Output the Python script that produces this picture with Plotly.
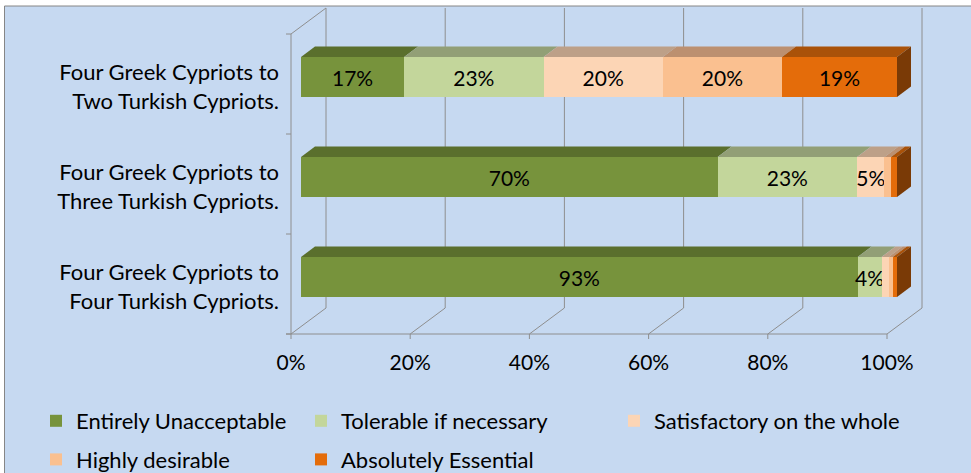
import plotly.graph_objects as go

# ---------------- data ----------------
categories = [
    "Four Greek Cypriots to<br>Two Turkish Cypriots.",
    "Four Greek Cypriots to<br>Three Turkish Cypriots.",
    "Four Greek Cypriots to<br>Four Turkish Cypriots.",
]
series_names = [
    "Entirely Unacceptable",
    "Tolerable if necessary",
    "Satisfactory on the whole",
    "Highly desirable",
    "Absolutely Essential",
]
entirely_unacceptable = [17.3, 69.9, 93.4]
tolerable_if_necessary = [23.4, 23.4, 4.0]
satisfactory_on_the_whole = [20.0, 4.6, 1.2]
highly_desirable = [20.0, 1.1, 0.7]
absolutely_essential = [19.3, 1.0, 0.7]
x_tick_values = [0, 20, 40, 60, 80, 100]
x_tick_labels = ["0%", "20%", "40%", "60%", "80%", "100%"]
label_threshold = 3  # segments smaller than this carry no label

# ---------------- styles ----------------
FONT = "Lato"
front_colors = ["#77933C", "#C3D69B", "#FCD5B5", "#FAC090", "#E46C0A"]
top_colors = ["#5A6F2D", "#929F76", "#BDA088", "#BC9070", "#AA5209"]
side_color = "#7A3A06"
frame_color = "#8E8E8E"
bg_color = "#C6D9F1"
legend_for = ["legend", "legend2", "legend3", "legend", "legend2"]

W, H = 971, 473
PL, PR, PT, PB = 284, 930, 4, 342      # plot area in px
SX = 5.96                              # px per percent
SY = 100.0                             # px per category step
X0PX, Y0PX = 301, 277                  # px of 0 % and of bottom category
BAR_W = 0.4
BDX, BDY = 14 / SX, 10.5 / SY          # bar depth (oblique)
FX, FY = -10 / SX, -7 / SY             # front plane offset
BX, BY = 25 / SX, 19 / SY              # back plane offset
TX, TY = 5 / SX, 5 / SY                # tick length

xrange = [(PL - X0PX) / SX, (PR - X0PX) / SX]
yrange = [-(PB - Y0PX) / SY, (Y0PX - PT) / SY]


def px_x(px):
    return (px - PL) / (PR - PL)


def px_y(py):
    return (PB - py) / (PB - PT)


series = [entirely_unacceptable, tolerable_if_necessary,
          satisfactory_on_the_whole, highly_desirable, absolutely_essential]
cat_order = categories[::-1]
cat_index = {c: i for i, c in enumerate(cat_order)}

fig = go.Figure()
for k, (name, vals) in enumerate(zip(series_names, series)):
    fig.add_trace(go.Bar(
        y=categories, x=vals, orientation="h", name=name,
        width=BAR_W,
        marker=dict(color=front_colors[k], line=dict(width=0)),
        text=[f"{v:.0f}%" if v >= label_threshold else "" for v in vals],
        textposition="inside", insidetextanchor="middle",
        constraintext="none", textangle=0,
        insidetextfont=dict(family=FONT, size=21, color="black"),
        legend=legend_for[k], legendgroup=name,
        hoverinfo="skip",
    ))

shapes = []
# chart area background + border
shapes.append(dict(type="rect", xref="paper", yref="paper",
                   x0=px_x(4.5), x1=px_x(990), y0=px_y(6), y1=px_y(490),
                   fillcolor=bg_color, line=dict(color="#868686", width=1),
                   layer="below"))


def frame_line(x0, y0, x1, y1):
    shapes.append(dict(type="line", xref="x", yref="y", x0=x0, y0=y0,
                       x1=x1, y1=y1, line=dict(color=frame_color, width=1),
                       layer="below"))


yf_bot, yf_top = -0.5 + FY, len(categories) - 0.5 + FY
yb_bot, yb_top = -0.5 + BY, len(categories) - 0.5 + BY
frame_line(FX, yf_bot, FX, yf_top)
frame_line(FX, yf_top, BX, yb_top)
frame_line(FX - TX, yf_bot, x_tick_values[-1] + FX, yf_bot)
for v in x_tick_values:
    frame_line(v + BX, yb_bot, v + BX, yb_top)
    frame_line(v + FX, yf_bot, v + BX, yb_bot)
    frame_line(v + FX, yf_bot, v + FX, yf_bot - TY)
for b in range(len(categories) + 1):
    yb = b - 0.5 + FY
    frame_line(FX - TX, yb, FX, yb)

# 3D top faces and end faces of the bars
cum = [0.0] * len(categories)
for k, vals in enumerate(series):
    for r, (cat, v) in enumerate(zip(categories, vals)):
        yt = cat_index[cat] + BAR_W / 2
        x0, x1 = cum[r], cum[r] + v
        shapes.append(dict(
            type="path", xref="x", yref="y",
            path=f"M{x0},{yt} L{x1},{yt} L{x1 + BDX},{yt + BDY} L{x0 + BDX},{yt + BDY} Z",
            fillcolor=top_colors[k], line=dict(width=0), layer="above"))
        cum[r] = x1
for r, cat in enumerate(categories):
    yt = cat_index[cat] + BAR_W / 2
    yb = cat_index[cat] - BAR_W / 2
    xe = cum[r]
    shapes.append(dict(
        type="path", xref="x", yref="y",
        path=f"M{xe},{yb} L{xe},{yt} L{xe + BDX},{yt + BDY} L{xe + BDX},{yb + BDY} Z",
        fillcolor=side_color, line=dict(width=0), layer="above"))

legend_common = dict(orientation="v", xanchor="left", yanchor="top",
                     xref="container", yref="container",
                     y=1 - 400 / H, bgcolor="rgba(0,0,0,0)",
                     font=dict(family=FONT, size=22, color="black"),
                     traceorder="grouped", tracegroupgap=7, borderwidth=0)

fig.update_layout(
    width=W, height=H, autosize=False,
    margin=dict(l=PL, r=W - PR, t=PT, b=H - PB, pad=0, autoexpand=False),
    paper_bgcolor="white", plot_bgcolor="rgba(0,0,0,0)",
    barmode="stack",
    font=dict(family=FONT, size=21, color="black"),
    xaxis=dict(range=xrange, tickmode="array", tickvals=x_tick_values,
               ticktext=x_tick_labels, showgrid=False, zeroline=False,
               showline=False, ticks="", ticklabelshift=-10,
               ticklabelstandoff=6, fixedrange=True, automargin=False,
               tickfont=dict(family=FONT, size=21, color="black")),
    yaxis=dict(type="category", categoryorder="array",
               categoryarray=cat_order, range=yrange, showgrid=False,
               zeroline=False, showline=False, ticks="",
               ticklabelshift=10, ticklabelstandoff=4, fixedrange=True,
               automargin=False,
               tickfont=dict(family=FONT, size=22, color="black")),
    legend=dict(legend_common, x=36 / W),
    legend2=dict(legend_common, x=301 / W),
    legend3=dict(legend_common, x=614 / W),
    shapes=shapes,
    showlegend=True,
)

fig.write_html("out.html", config={"displayModeBar": False},
               post_script="document.body.style.margin='0';")
